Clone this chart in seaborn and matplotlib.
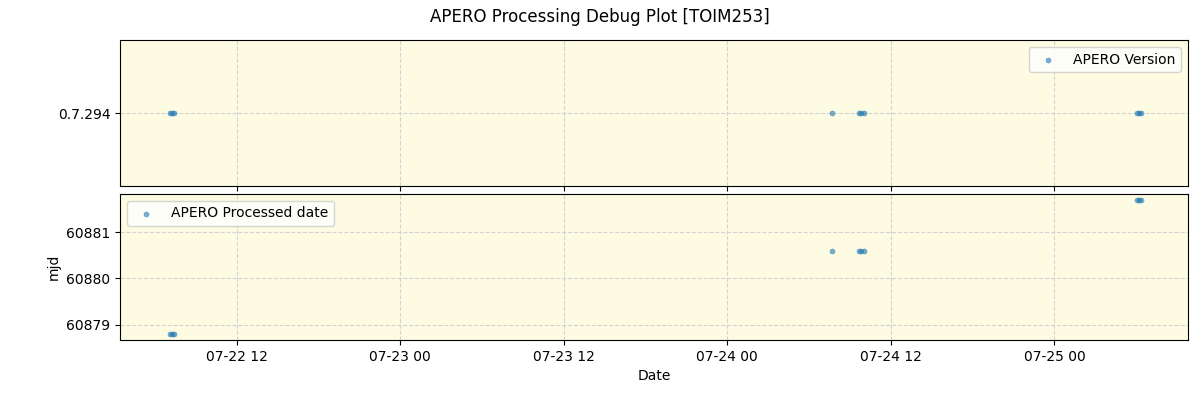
import matplotlib
matplotlib.use("Agg")
import matplotlib.pyplot as plt
import matplotlib.dates as mdates
import seaborn as sns
import pandas as pd

dates = ["2025-07-22 07:08", "2025-07-22 07:16", "2025-07-22 07:22",
         "2025-07-24 07:42", "2025-07-24 09:40", "2025-07-24 09:50", "2025-07-24 10:00",
         "2025-07-25 06:05", "2025-07-25 06:12", "2025-07-25 06:20"]
versions = ["0.7.294"] * 10
mjd = [60878.80, 60878.80, 60878.80,
       60880.59, 60880.59, 60880.59, 60880.59,
       60881.70, 60881.70, 60881.70]

df = pd.DataFrame({"date": pd.to_datetime(dates), "version": versions, "mjd": mjd})

fig, (ax1, ax2) = plt.subplots(2, 1, figsize=(12, 4), dpi=100, sharex=True)
fig.subplots_adjust(left=0.1, right=0.99, top=0.9, bottom=0.15, hspace=0.05)
for ax in (ax1, ax2):
    ax.set_facecolor("#fdfbe2")
    ax.grid(True, linestyle="--", color="lightgray")
    ax.set_axisbelow(True)

sns.scatterplot(data=df, x="date", y="version", ax=ax1, s=14, alpha=0.6,
                color="#1f77b4", edgecolor="#1f77b4", label="APERO Version")
sns.scatterplot(data=df, x="date", y="mjd", ax=ax2, s=14, alpha=0.6,
                color="#1f77b4", edgecolor="#1f77b4", label="APERO Processed date")
ax1.set_ylim(-0.5, 0.5)
ax1.set_ylabel("")
ax1.set_xlabel("")
ax1.legend(loc="upper right")
ax2.legend(loc="upper left")
ax2.set_ylabel("mjd")
ax2.set_xlabel("Date")
ax2.set_ylim(60878.67, 60881.83)
ax2.set_yticks([60879, 60880, 60881])
ax2.ticklabel_format(axis="y", useOffset=False)
ax2.set_xlim(pd.Timestamp("2025-07-22 03:26"), pd.Timestamp("2025-07-25 09:48"))
ax2.xaxis.set_major_locator(mdates.HourLocator(byhour=[0, 12]))
ax2.xaxis.set_major_formatter(mdates.DateFormatter("%m-%d %H"))
fig.suptitle("APERO Processing Debug Plot [TOIM253]")
fig.savefig("out.png")
